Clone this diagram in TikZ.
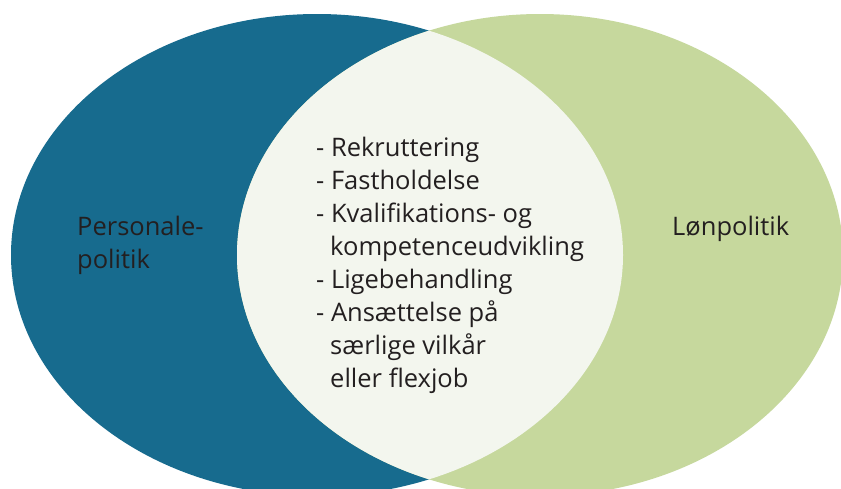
\documentclass[tikz,border=0pt]{standalone}
\usepackage{fontspec}
\setmainfont{Open Sans}
\definecolor{leftblue}{HTML}{176B8E}
\definecolor{rightgreen}{HTML}{C6D89D}
\definecolor{lensfill}{HTML}{F3F6EE}
\definecolor{txt}{HTML}{231F20}
\begin{document}
\begin{tikzpicture}[x=1pt,y=-1pt,
  lbl/.style={text=txt, inner sep=0pt, align=left, font=\fontsize{25.5}{33}\selectfont},
  mid/.style={text=txt, inner sep=0pt, align=left, font=\fontsize{25.5}{33}\selectfont}]
\useasboundingbox (0,0) rectangle (841,488);
\fill[white] (0,0) rectangle (841,488);
\fill[leftblue] (317,255) ellipse [x radius=306, y radius=241];
\fill[rightgreen] (540,255) ellipse [x radius=303, y radius=241];
\begin{scope}
  \clip (317,255) ellipse [x radius=306, y radius=241];
  \fill[lensfill] (540,255) ellipse [x radius=303, y radius=241];
\end{scope}
\node[lbl, anchor=base west] (pers) at (77,268) {Personale-\\politik};
\node[lbl, anchor=base west] (loen) at (672,235) {Lønpolitik};
\node[mid, anchor=base west] (items) at (316,387) {- Rekruttering\\- Fastholdelse\\- Kvalifikations- og\\\hspace*{0.55em}kompetenceudvikling\\- Ligebehandling\\- Ansættelse på\\\hspace*{0.55em}særlige vilkår\\\hspace*{0.55em}eller flexjob};
\end{tikzpicture}
\end{document}
